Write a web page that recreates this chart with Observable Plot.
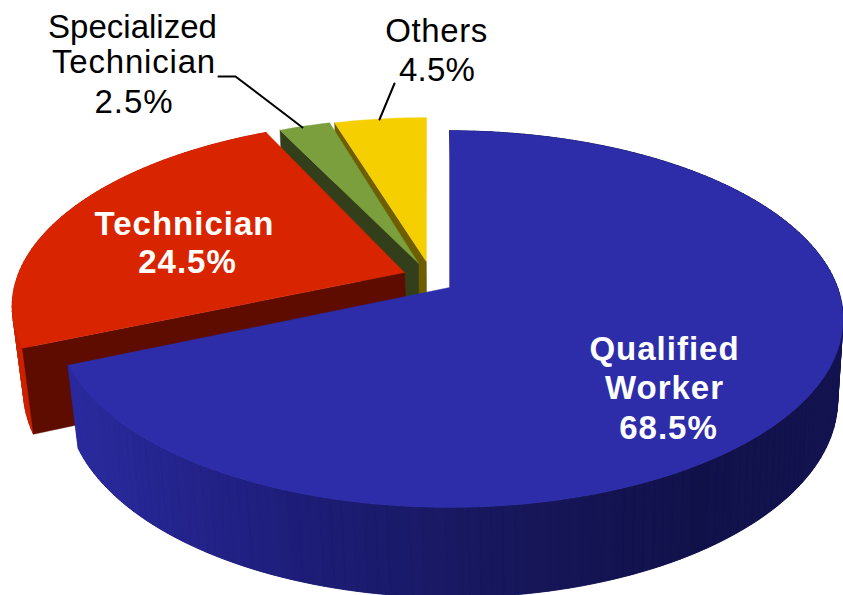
<!doctype html>
<html><head><meta charset="utf-8">
<script src="https://cdn.jsdelivr.net/npm/d3@7"></script>
<script src="https://cdn.jsdelivr.net/npm/@observablehq/plot@0.6"></script>
<style>html,body{margin:0;background:#fff}svg{display:block}</style>
</head><body><div id="chart"></div>
<script>
// Data
const categories = ["Qualified Worker", "Technician", "Specialized Technician", "Others"];
const shares = [68.5, 24.5, 2.5, 4.5];

// Styling per category
const topColors = ["#2d2daa", "#d92400", "#7a9f3c", "#f6cf00"];
const faceColors = [null, "#5e0c00", "#333f1a", "#6f5e00"];
const wallColors = [null, "#cc2200", null, null];
const blueWallX = [70, 300, 500, 700, 843];
const blueWallC = ["#2a2a9e", "#1d1d78", "#17175c", "#11114a", "#131350"];
// Explosion of each slice in the plane of the pie: arc offset and apex offset
const arcOffset = [[0, 0], [-0.125, -0.083], [-0.085, -0.10], [-0.07, -0.10]];
const apexOffset = [[0, 0], [-0.1176, -0.083], [-0.0818, -0.135], [-0.061, -0.145]];
// Depth of each slice's side: horizontal shift and drop of its lower edge
const lowerShift = [2.5, 2.5, 0, 0];
const lowerDrop = [79, 83, 79, 79];

// Perspective view of the pie
const view = {cx: 449, cy: 287, R: 388, k: 183, p: 0.168, fx: 0.98, fy: 0.05};
const project = (X, Y) => {
  const s = 1 / (1 - view.p * Y);
  return [view.cx + view.R * X * s, view.cy + view.k * Y * s];
};
const lowerOf = i => ([x, y]) => [
  view.cx + lowerShift[i] + view.fx * (x - view.cx),
  y + lowerDrop[i] + view.fy * (y - view.cy)
];
const rim = (a, o) => project(Math.sin(a) + o[0], -Math.cos(a) + o[1]);

const wallColor = d3.scaleLinear().domain(blueWallX).range(blueWallC);
const total = d3.sum(shares);
const starts = d3.cumsum([0, ...shares]).map(v => v / total * 2 * Math.PI);

const rows = [];
let zid = 0;
const addPoly = (pts, color, sw) => {
  const z = zid++;
  for (const [x, y] of [...pts, pts[0]]) rows.push({x, y, z, color, sw});
};
for (const i of [3, 2, 1, 0]) {
  const a0 = starts[i], a1 = starts[i + 1];
  const n = Math.max(4, Math.round((a1 - a0) * 40));
  const arc = d3.range(n + 1).map(j => rim(a0 + (a1 - a0) * j / n, arcOffset[i]));
  const apex = project(apexOffset[i][0], apexOffset[i][1]);
  const lower = lowerOf(i);
  // solid wall first, so the shaded bands above it leave no seams
  if (i < 2) {
    const under = i === 0 ? wallColor(450) : wallColors[i];
    addPoly([...arc, ...arc.map(lower).reverse()], under, 0.2);
    for (let j = 0; j < n; j++) {
      const c = i === 0 ? wallColor((arc[j][0] + arc[j + 1][0]) / 2) : wallColors[i];
      addPoly([arc[j], arc[j + 1], lower(arc[j + 1]), lower(arc[j])], c, 0.8);
    }
  }
  if (faceColors[i]) addPoly([arc[0], apex, lower(apex), lower(arc[0])], faceColors[i], 0.4);
  addPoly([apex, ...arc], topColors[i], 0.4);
}

// Labels
const blackLines = ["Specialized", "Technician", "2.5%", "Others", "4.5%"];
const blackX = [132, 133.5, 133.5, 436, 436.5];
const blackY = [37, 72, 112, 41, 80];
const blackSpacing = [0, 0.8, 0.9, 0.6, 0.2];
const whiteLines = ["Technician", "24.5%", "Qualified", "Worker", "68.5%"];
const whiteX = [184, 187, 664, 664, 668];
const whiteY = [234, 272, 359, 398, 438];
const leaders = [
  {g: 0, x: 218, y: 76}, {g: 0, x: 235, y: 76}, {g: 0, x: 302, y: 127},
  {g: 1, x: 394, y: 83}, {g: 1, x: 379, y: 119}
];
const spaced = px => (index, scales, values, dimensions, context, next) => {
  const g = next(index, scales, values, dimensions, context);
  g.style.letterSpacing = px + "px";
  return g;
};

const chart = Plot.plot({
  width: 843, height: 595, margin: 0,
  x: {type: "identity", axis: null}, y: {type: "identity", axis: null}, color: {type: "identity"},
  style: {background: "#fff"},
  marks: [
    Plot.line(rows, {x: "x", y: "y", z: "z", fill: "color", stroke: "color", strokeWidth: "sw"}),
    Plot.line(leaders, {x: "x", y: "y", z: "g", stroke: "#000", strokeWidth: 2}),
    ...blackLines.map((text, i) => Plot.text([text], {x: blackX[i], y: blackY[i], text: d => d, fill: "#000",
      fontFamily: "Liberation Sans", fontSize: 33, lineAnchor: "bottom", textAnchor: "middle",
      render: spaced(blackSpacing[i])})),
    Plot.text(whiteLines, {x: whiteX, y: whiteY, text: d => d, fill: "#fff",
      fontFamily: "Liberation Sans", fontWeight: "bold", fontSize: 33, lineAnchor: "bottom", textAnchor: "middle",
      render: spaced(1)})
  ]
});
document.getElementById("chart").append(chart);
</script></body></html>
